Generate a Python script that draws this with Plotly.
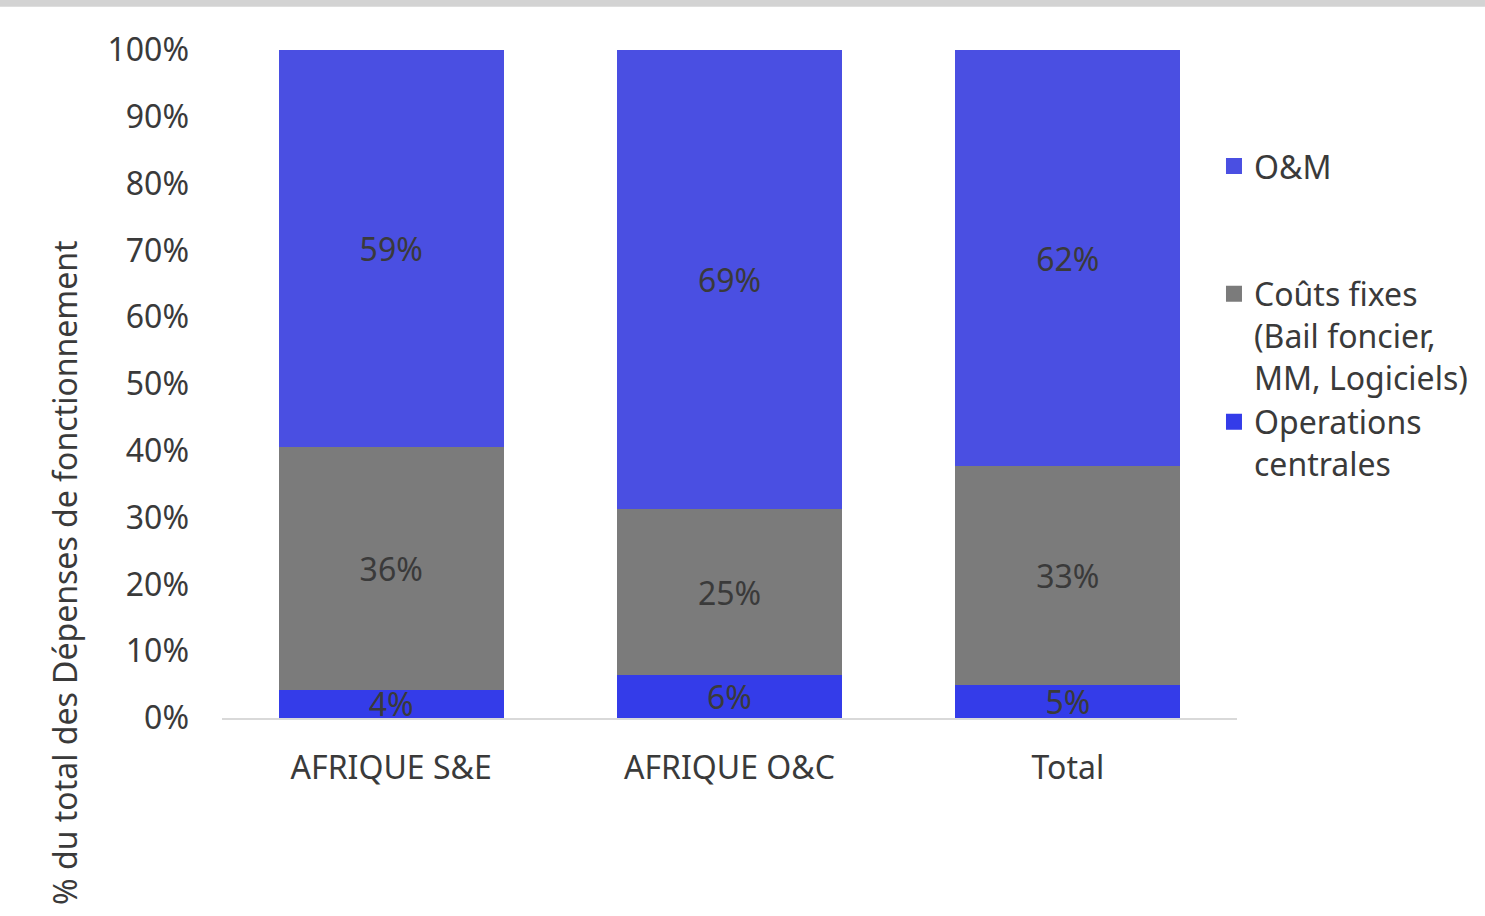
import plotly.graph_objects as go

categories = ["AFRIQUE S&E", "AFRIQUE O&C", "Total"]
operations_centrales = [4.2, 6.4, 4.9]
couts_fixes = [36.4, 24.9, 32.8]
om = [59.4, 68.7, 62.3]
y_ticks = [0, 10, 20, 30, 40, 50, 60, 70, 80, 90, 100]
y_tick_labels = [f"{v}%" for v in y_ticks]

FONT = "Noto Sans"
TXT = "#3a3a3a"
FS = 32

fig = go.Figure()
series = [
    ("Operations<br>centrales", operations_centrales, "#343ce9"),
    ("Coûts fixes<br>(Bail foncier,<br>MM, Logiciels)", couts_fixes, "#7b7b7b"),
    ("O&M<br> <br> ", om, "#4a4fe2"),
]
for name, vals, col in series:
    fig.add_trace(go.Bar(
        x=categories, y=vals, name=name, marker=dict(color=col, line=dict(width=0)),
        width=0.665, texttemplate="%{y:.0f}%", textposition="inside",
        insidetextanchor="middle", textfont=dict(family=FONT, size=FS, color=TXT),
        showlegend=False, legendgroup=name,
    ))
# legend entries (square symbols)
for name, vals, col in series:
    fig.add_trace(go.Scatter(
        x=[None], y=[None], mode="markers", name=name, legendgroup=name,
        marker=dict(symbol="square", size=20, color=col),
    ))

fig.update_layout(
    barmode="stack",
    width=1485, height=916,
    margin=dict(l=222, r=248, t=50, b=198, autoexpand=False),
    paper_bgcolor="white", plot_bgcolor="white",
    font=dict(family=FONT, size=FS, color=TXT),
    uniformtext=dict(mode="show", minsize=FS),
    showlegend=True,
    legend=dict(
        traceorder="reversed", xref="container", x=0.8175, xanchor="left",
        yref="container", y=0.8485, yanchor="top",
        valign="top", font=dict(family=FONT, size=FS, color=TXT),
        itemwidth=30, tracegroupgap=0, bgcolor="rgba(0,0,0,0)",
    ),
    xaxis=dict(
        showline=True, linecolor="#d9d9d9", linewidth=2, showgrid=False,
        ticks="", ticklabelstandoff=21, tickfont=dict(family=FONT, size=FS, color=TXT),
        range=[-0.5, 2.5],
    ),
    yaxis=dict(
        range=[0, 100], tickmode="array", tickvals=y_ticks, ticktext=y_tick_labels,
        showgrid=False, zeroline=False, showline=False, ticks="", ticklabelstandoff=32,
        tickfont=dict(family=FONT, size=FS, color=TXT),
    ),
    shapes=[dict(type="rect", xref="paper", yref="paper",
                 x0=-0.2187, x1=1.2443, y0=1.0649, y1=1.0749,
                 fillcolor="#d3d3d3", line=dict(width=0), layer="below")],
    annotations=[dict(
        text="% du total des Dépenses de fonctionnement", textangle=-90,
        xref="paper", yref="paper", x=-0.1547, y=0.2186,
        xanchor="center", yanchor="middle", showarrow=False,
        font=dict(family=FONT, size=FS, color=TXT),
    )],
)

fig.write_html("out.html", config={"displayModeBar": False},
               post_script="document.body.style.margin='0';document.body.style.overflow='hidden';")
